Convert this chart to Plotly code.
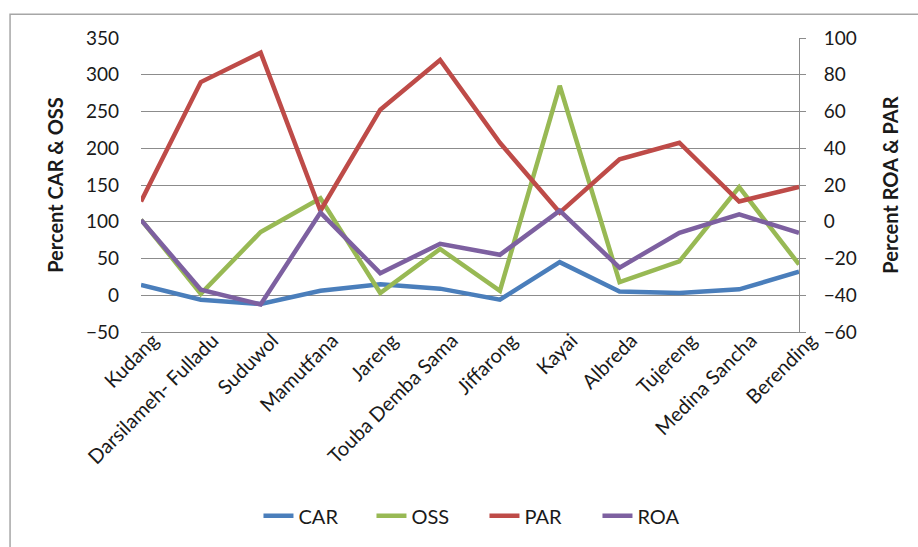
import plotly.graph_objects as go

# Villages (category axis)
villages = ["Kudang", "Darsilameh- Fulladu", "Suduwol", "Mamutfana", "Jareng",
            "Touba Demba Sama", "Jiffarong", "Kayai", "Albreda", "Tujereng",
            "Medina Sancha", "Berending"]

# Primary axis series (percent)
car = [14, -6, -12, 6, 15, 9, -6, 45, 5, 3, 8, 32]
oss = [103, 2, 86, 132, 3, 63, 6, 285, 18, 46, 147, 42]

# Secondary axis series (percent)
par = [11, 76, 92, 6, 61, 88, 43, 5, 34, 43, 11, 19]
roa = [1, -37, -45, 5, -28, -12, -18, 6, -25, -6, 4, -6]

left_ticks = list(range(-50, 351, 50))
right_ticks = list(range(-60, 101, 20))

FONT = "Lato, 'Open Sans', sans-serif"
TXT = "#1a1a1a"
GRID = "#8c8c8c"

fig = go.Figure()
series = [
    ("CAR", car, "#4A7EBB", "y"),
    ("OSS", oss, "#98B954", "y"),
    ("PAR", par, "#BE4B48", "y2"),
    ("ROA", roa, "#7D60A0", "y2"),
]
for name, vals, color, axis in series:
    fig.add_trace(go.Scatter(
        x=villages, y=vals, name=name, mode="lines", yaxis=axis,
        line=dict(color=color, width=4.5),
    ))

fig.update_layout(
    width=918, height=547,
    margin=dict(l=141, r=119, t=38, b=212),
    paper_bgcolor="white", plot_bgcolor="white",
    font=dict(family=FONT, size=19, color=TXT),
    showlegend=True,
    legend=dict(orientation="h", x=0.522, xanchor="center", y=-0.625, yanchor="middle",
                font=dict(size=20), entrywidth=68, entrywidthmode="pixels",
                tracegroupgap=0),
    xaxis=dict(
        type="category", tickangle=-45, showgrid=False,
        showline=True, linecolor=GRID, linewidth=1,
        ticks="", tickfont=dict(size=20),
        ticklabelshift=12, ticklabelstandoff=-12,
    ),
    yaxis=dict(
        range=[-50, 350], tickvals=left_ticks, showgrid=True, gridcolor=GRID,
        gridwidth=1, zeroline=False, showline=False, ticks="",
        ticklabelstandoff=21,
        title=dict(text="<b>Percent CAR &amp; OSS</b>", font=dict(size=20), standoff=16),
    ),
    yaxis2=dict(
        range=[-60, 100], tickvals=right_ticks, overlaying="y", side="right",
        showgrid=False, zeroline=False, showline=True, linecolor=GRID, linewidth=1,
        ticks="outside", ticklen=6, tickcolor=GRID,
        ticklabelstandoff=14,
        title=dict(text="<b>Percent ROA &amp; PAR</b>", font=dict(size=20), standoff=28),
    ),
    shapes=[dict(type="rect", xref="paper", yref="paper",
                 x0=-0.199, x1=1.4, y0=-1.2, y1=1.081,
                 line=dict(color="#a6a6a6", width=1.5), layer="below")],
)

fig.write_html("out.html")
